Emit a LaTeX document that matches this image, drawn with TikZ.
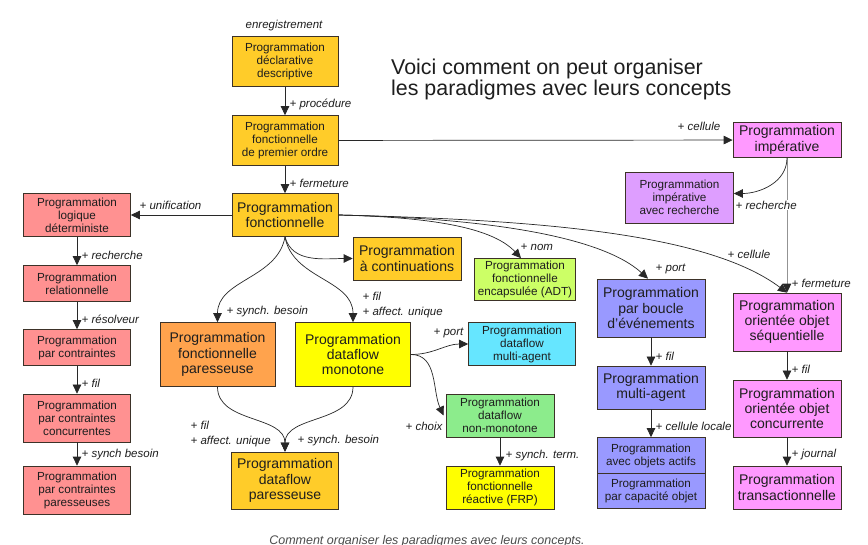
\documentclass[tikz,border=0pt]{standalone}
\usepackage{fontspec}
\setmainfont{Liberation Sans}
\usetikzlibrary{arrows.meta}
\definecolor{cgold}{RGB}{255,204,41}
\definecolor{csalmon}{RGB}{255,145,145}
\definecolor{corange}{RGB}{255,163,77}
\definecolor{cyellow}{RGB}{255,255,0}
\definecolor{cygreen}{RGB}{204,255,102}
\definecolor{ccyan}{RGB}{102,230,255}
\definecolor{cgreen}{RGB}{140,236,140}
\definecolor{cblue}{RGB}{153,153,255}
\definecolor{cmagenta}{RGB}{255,153,255}
\definecolor{cviolet}{RGB}{222,158,255}
\definecolor{cborder}{RGB}{60,50,40}
\definecolor{ctext}{RGB}{30,30,30}
\definecolor{cline}{RGB}{40,40,40}
\begin{document}
\begin{tikzpicture}[x=1pt,y=-1pt,
  box/.style={draw=cborder, line width=0.7pt, inner sep=0pt, align=center, text=ctext},
  sm/.style={font=\fontsize{11.7}{13}\selectfont},
  lg/.style={font=\fontsize{14}{15.3}\selectfont},
  lab/.style={font=\fontsize{11.5}{15}\selectfont\itshape, inner sep=0.5pt, text=ctext, align=left},
  arr/.style={-{Triangle[length=9pt,width=8.5pt,color=cline]}, line width=0.7pt, draw=cline},
]
\useasboundingbox (0,0) rectangle (868,545);
\fill[white] (0,0) rectangle (868,545);

% title
\node[anchor=base west, inner sep=0pt, font=\fontsize{21.4}{22}\selectfont, text=ctext] (t1) at (391,75) {Voici comment on peut organiser};
\node[anchor=base west, inner sep=0pt, font=\fontsize{21.4}{22}\selectfont, text=ctext] (t2) at (391,96) {les paradigmes avec leurs concepts};

% centre column
\node[box,sm,fill=cgold,minimum width=106pt,minimum height=50pt] (decl) at (285,61.5) {Programmation\\déclarative\\descriptive};
\node[box,sm,fill=cgold,minimum width=106pt,minimum height=50pt] (po) at (285,140.5) {Programmation\\fonctionnelle\\de premier ordre};
\node[box,lg,fill=cgold,minimum width=106pt,minimum height=43pt] (fonct) at (285,215) {Programmation\\fonctionnelle};
\node[lab,anchor=base] (enr) at (284,29) {enregistrement};

% left column
\node[box,sm,fill=csalmon,minimum width=107pt,minimum height=43pt] (logique) at (77,215) {Programmation\\logique\\déterministe};
\node[box,sm,fill=csalmon,minimum width=107pt,minimum height=36pt] (rel) at (77,283.5) {Programmation\\relationnelle};
\node[box,sm,fill=csalmon,minimum width=107pt,minimum height=36pt] (contr) at (77,347.5) {Programmation\\par contraintes};
\node[box,sm,fill=csalmon,minimum width=107pt,minimum height=48pt] (conc) at (77,418) {Programmation\\par contraintes\\concurrentes};
\node[box,sm,fill=csalmon,minimum width=107pt,minimum height=48pt] (pares) at (77,490) {Programmation\\par contraintes\\paresseuses};

% middle
\node[box,lg,fill=cgold,minimum width=108pt,minimum height=43pt] (cont) at (407,258.5) {Programmation\\à continuations};
\node[box,lg,fill=corange,minimum width=115pt,minimum height=64pt] (fpar) at (217.5,354.5) {Programmation\\fonctionnelle\\paresseuse};
\node[box,lg,fill=cyellow,minimum width=115pt,minimum height=64pt] (mono) at (353,354.5) {Programmation\\dataflow\\monotone};
\node[box,lg,fill=cgold,minimum width=107pt,minimum height=57pt] (dfpar) at (285,480.5) {Programmation\\dataflow\\paresseuse};
\node[box,sm,fill=cygreen,minimum width=101pt,minimum height=42pt] (adt) at (525,279.5) {Programmation\\fonctionnelle\\encapsulée (ADT)};
\node[box,sm,fill=ccyan,minimum width=107pt,minimum height=43pt] (dma) at (522,344) {Programmation\\dataflow\\multi-agent};
\node[box,sm,fill=cgreen,minimum width=108pt,minimum height=43pt] (nonmono) at (500,415.5) {Programmation\\dataflow\\non-monotone};
\node[box,sm,fill=cyellow,minimum width=108pt,minimum height=43pt] (frp) at (500,487.5) {Programmation\\fonctionnelle\\réactive (FRP)};

% blue column
\node[box,lg,fill=cblue,minimum width=108pt,minimum height=58pt] (boucle) at (651,308) {Programmation\\par boucle\\d’événements};
\node[box,lg,fill=cblue,minimum width=108pt,minimum height=43pt] (ma) at (651,387.5) {Programmation\\multi-agent};
\node[box,sm,fill=cblue,minimum width=108pt,minimum height=36pt] (actifs) at (651,455.5) {Programmation\\avec objets actifs};
\node[box,sm,fill=cblue,minimum width=108pt,minimum height=35pt] (capa) at (651,491) {Programmation\\par capacité objet};

% right column
\node[box,lg,fill=cmagenta,minimum width=108pt,minimum height=35pt] (imp) at (787,140) {Programmation\\impérative};
\node[box,sm,fill=cviolet,minimum width=108pt,minimum height=51pt] (imprech) at (679.5,197.5) {Programmation\\impérative\\avec recherche};
\node[box,lg,fill=cmagenta,minimum width=108pt,minimum height=58pt] (ooseq) at (787,322) {Programmation\\orientée objet\\séquentielle};
\node[box,lg,fill=cmagenta,minimum width=108pt,minimum height=57pt] (ooconc) at (787,408.5) {Programmation\\orientée objet\\concurrente};
\node[box,lg,fill=cmagenta,minimum width=108pt,minimum height=43pt] (trans) at (787,487.5) {Programmation\\transactionnelle};

% straight connectors
\draw[arr] (decl) -- (po);
\draw[arr] (po) -- (fonct);
\draw[arr] (po) -- (imp);
\draw[arr] (fonct) -- (logique);
\draw[arr] (logique) -- (rel);
\draw[arr] (rel) -- (contr);
\draw[arr] (contr) -- (conc);
\draw[arr] (conc) -- (pares);
\draw[arr] (nonmono) -- (frp);
\draw[arr] (boucle) -- (ma);
\draw[arr] (ma) -- (actifs);
\draw[arr] (ooseq) -- (ooconc);
\draw[arr] (ooconc) -- (trans);
\draw[arr, draw=gray!85, line width=1pt] (imp) -- (ooseq);

% curved connectors
\draw[arr] (fonct.south) to[out=-75,in=180] (cont.west);
\draw[arr] (fonct.south) to[out=-100,in=90] (fpar.north);
\draw[arr] (fonct.south) to[out=-80,in=90] (mono.north);
\draw[arr] (fpar.south) to[out=-90,in=90] (dfpar.north);
\draw[arr] (mono.south) to[out=-90,in=90] (dfpar.north);
\draw[arr] (mono.east) to[out=0,in=180] (dma.west);
\draw[arr] (mono.east) to[out=0,in=115] ([xshift=-2pt]nonmono.west);
\draw[arr] (imp.south) to[out=-90,in=0] ([yshift=4pt]imprech.east);
\draw[arr] (fonct.east) .. controls (420,217) and (490,225) .. ([xshift=-4pt]adt.north);
\draw[arr] (fonct.east) .. controls (480,218) and (600,235) .. ([xshift=-3pt]boucle.north);
\draw[arr] (fonct.east) .. controls (550,220) and (710,235) .. (ooseq.north);

% labels
\node[lab,anchor=west] (l1) at (289,104) {+ procédure};
\node[lab,anchor=west] (l2) at (289,183) {+ fermeture};
\node[lab,anchor=west] (l3) at (139,205) {+ unification};
\node[lab,anchor=west] (l4) at (677,126) {+ cellule};
\node[lab,anchor=west] (l5) at (81,255) {+ recherche};
\node[lab,anchor=west] (l6) at (81,319) {+ résolveur};
\node[lab,anchor=west] (l7) at (81,383) {+ fil};
\node[lab,anchor=west] (l8) at (81,455) {+ synch besoin};
\node[lab,anchor=west] (l9) at (226,312) {+ synch. besoin};
\node[lab,anchor=west] (l10) at (362,305) {+ fil\\+ affect. unique};
\node[lab,anchor=west] (l11) at (520,247) {+ nom};
\node[lab,anchor=west] (l12) at (655,269) {+ port};
\node[lab,anchor=west] (l13) at (727,254) {+ cellule};
\node[lab,anchor=west,fill=white] (l14) at (735,205) {+ recherche};
\node[lab,anchor=west] (l15) at (791,283) {+ fermeture};
\node[lab,anchor=west] (l16) at (433,333) {+ port};
\node[lab,anchor=west] (l17) at (405,426) {+ choix};
\node[lab,anchor=west] (l18) at (505,456) {+ synch. term.};
\node[lab,anchor=west] (l19) at (190,434) {+ fil\\+ affect. unique};
\node[lab,anchor=west] (l20) at (297,441) {+ synch. besoin};
\node[lab,anchor=west] (l21) at (655,356) {+ fil};
\node[lab,anchor=west] (l22) at (655,426) {+ cellule locale};
\node[lab,anchor=west] (l23) at (791,369) {+ fil};
\node[lab,anchor=west] (l24) at (791,455) {+ journal};

% caption
\node[anchor=base, inner sep=0pt, font=\fontsize{12.5}{14}\selectfont\itshape, text=black!70] (cap) at (427,544) {Comment organiser les paradigmes avec leurs concepts.};
\end{tikzpicture}
\end{document}
